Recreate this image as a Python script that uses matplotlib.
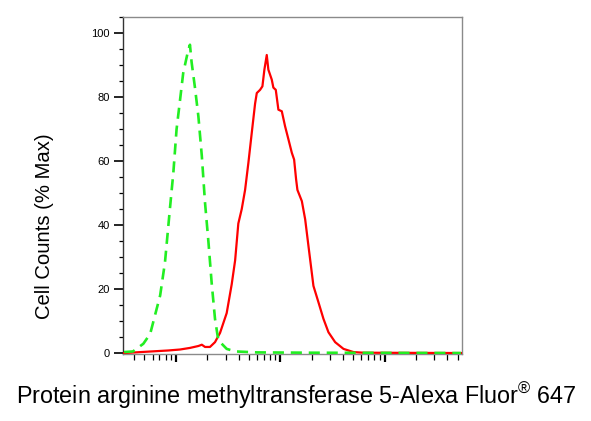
import numpy as np
import matplotlib
matplotlib.use("Agg")
import matplotlib.pyplot as plt
from matplotlib.ticker import LogLocator, MultipleLocator, NullFormatter

plt.rcParams['font.family'] = ['Liberation Sans', 'DejaVu Sans']
plt.rcParams['mathtext.fontset'] = 'custom'
plt.rcParams['mathtext.rm'] = 'Liberation Sans'

# isotype control (green dashed)
ctrl_x = [32, 39, 49, 57, 71, 79, 88, 95, 102, 110, 118, 132, 137, 142, 153, 165,
          178, 191, 206, 221, 238, 256, 308, 371, 600, 2000, 54000]
ctrl_y = [0.3, 0.5, 2.9, 6, 18, 28.4, 45, 56.4, 70, 79, 87.5, 94.8, 96.4, 91, 83, 74,
          61.6, 47, 34.7, 22, 10.7, 4, 1.3, 0.5, 0.2, 0.1, 0]

# PRMT5 stained (red solid)
prmt5_x = [32, 85, 110, 137, 165, 178, 191, 213, 238, 266, 308, 344, 371, 398, 429,
           462, 497, 535, 576, 598, 643, 677, 707, 745, 772, 832, 862, 909, 963, 1038,
           1116, 1202, 1295, 1362, 1423, 1465, 1615, 1738, 1868, 2085, 2328, 2600,
           2904, 3366, 4045, 5045, 6295, 54000]
prmt5_y = [0, 0.8, 1.1, 1.6, 2.2, 2.6, 1.9, 1.9, 3.4, 6.3, 12.5, 21.5, 29, 40.5, 45,
           51, 59.5, 68.8, 78, 81.3, 82.3, 83.4, 88.6, 93.2, 88.6, 85.5, 83, 82.3, 76.1,
           75.6, 70.9, 66.8, 62.6, 60.5, 54.3, 51, 47.5, 41.8, 33.5, 21, 15.9, 10.7,
           6.5, 3.4, 1.3, 0.3, 0.1, 0]

yticks = [0, 20, 40, 60, 80, 100]

fig = plt.figure(figsize=(5.91, 4.21), dpi=100)
ax = fig.add_axes([0.2086, 0.1584, 0.5726, 0.8006])

ax.plot(prmt5_x, prmt5_y, color='#ff0000', lw=1.6, zorder=3)
ax.plot(ctrl_x, ctrl_y, color='#22ee22', lw=1.9, linestyle=(0, (4.2, 2.6)), zorder=4)

ax.set_xscale('log')
ax.set_xlim(31.5, 54800)
ax.set_ylim(-0.4, 105)

ax.xaxis.set_major_locator(LogLocator(base=10, numticks=10))
ax.xaxis.set_minor_locator(LogLocator(base=10, subs=np.arange(2, 10), numticks=10))
ax.xaxis.set_major_formatter(NullFormatter())
ax.xaxis.set_minor_formatter(NullFormatter())

ax.set_yticks(yticks)
ax.set_yticklabels([str(v) for v in yticks])
ax.yaxis.set_minor_locator(MultipleLocator(5))

ax.tick_params(axis='y', which='major', length=6.2, width=1.2, labelsize=8, pad=3.5, color='black')
ax.tick_params(axis='y', which='minor', length=3, width=0.9, color='black')
ax.tick_params(axis='x', which='major', length=6, width=1.6, color='black')
ax.tick_params(axis='x', which='minor', length=4.5, width=0.9, color='black')

for side in ['top', 'right', 'bottom']:
    ax.spines[side].set_color('#8a8a8a')
    ax.spines[side].set_linewidth(1.0)
ax.spines['left'].set_color('#333333')
ax.spines['left'].set_linewidth(1.0)

fig.text(0.076, 0.463, 'Cell Counts (% Max)', rotation=90, ha='center', va='center', fontsize=14.6)
fig.text(0.502, 0.059, r'Protein arginine methyltransferase 5-Alexa Fluor$^{\mathrm{®}}$ 647',
         ha='center', va='center', fontsize=16.8)

fig.savefig('out.png', dpi=100)
